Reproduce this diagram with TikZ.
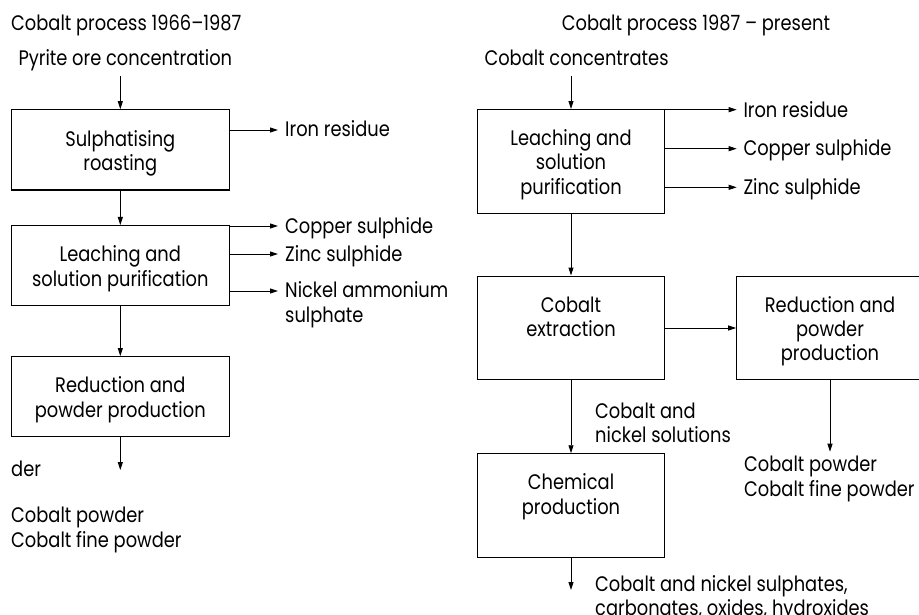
\documentclass[tikz,border=0pt]{standalone}
\usepackage{fontspec}
\setmainfont[FakeStretch=0.85]{Poppins}
\usetikzlibrary{arrows.meta,calc}
\newcommand{\mlines}[1]{\begin{tabular}[t]{@{}l@{}}#1\end{tabular}}
\newcommand{\boxtext}[1]{\begin{tabular}{@{}c@{}}\rule{0pt}{24pt}#1\end{tabular}}
\begin{document}
\begin{tikzpicture}[x=1pt,y=-1pt,
  every node/.style={font=\fontsize{21}{24.3}\selectfont, inner sep=0pt},
  box/.style={draw, line width=1.1pt, align=center, minimum width=217.5pt, minimum height=80.3pt},
  rbox/.style={draw, line width=1.1pt, align=center, minimum width=186.6pt, minimum height=103.8pt},
  lbl/.style={anchor=base west},
  arr/.style={-{Triangle[length=8pt,width=5pt]}, line width=0.9pt}]
\useasboundingbox (0,0) rectangle (919,615);

% ---------- left process ----------
\node[lbl] (t1) at (11,30.7) {Cobalt process 1966--1987};
\node[lbl] (pyr) at (18.3,65.7) {Pyrite ore concentration};
\node[box] (b1) at (120.3,149.9) {\boxtext{Sulphatising\\roasting}};
\node[box] (b2) at (120.3,265.7) {\boxtext{Leaching and\\solution purification}};
\node[box] (b3) at (120.3,396.7) {\boxtext{Reduction and\\powder production}};

\coordinate (p0) at (120.3,76);
\draw[arr] (p0) -- (b1.north);
\draw[arr] (b1) -- (b2);
\draw[arr] (b2) -- (b3);

\coordinate (ir1) at (278,130);
\node[lbl] (irl1) at ($(ir1)+(7,6.7)$) {Iron residue};
\draw[arr] (ir1 -| b1.east) -- (ir1);

\coordinate (cu1) at (278,226);
\node[lbl] (cul1) at ($(cu1)+(7,7.2)$) {Copper sulphide};
\draw[arr] (cu1 -| b2.east) -- (cu1);

\coordinate (zn1) at (278,254);
\node[lbl] (znl1) at ($(zn1)+(7,7)$) {Zinc sulphide};
\draw[arr] (zn1 -| b2.east) -- (zn1);

\coordinate (ni1) at (278,291);
\node[lbl] (nil1) at ($(ni1)+(7,6.8)$) {\mlines{Nickel ammonium\\sulphate}};
\draw[arr] (ni1 -| b2.east) -- (ni1);

\coordinate (lp) at (120.3,470);
\draw[arr] (b3.south) -- (b3.south |- lp);
\node[lbl] (der) at (11,476.7) {der};
\node[lbl] (pow1) at (11,522.7) {\mlines{Cobalt powder\\Cobalt fine powder}};

% ---------- right process ----------
\node[lbl] (t2) at (561.7,30.7) {Cobalt process 1987 -- present};
\node[lbl] (cc) at (484.3,65.7) {Cobalt concentrates};
\node[rbox] (bA) at (571,161.5) {\boxtext{Leaching and\\solution\\purification}};
\node[rbox] (bB) at (571,328) {\boxtext{Cobalt\\extraction\\\mbox{}}};
\node[rbox] (bC) at (830,328) {\boxtext{Reduction and\\powder\\production}};
\node[rbox] (bD) at (571,505.7) {\boxtext{Chemical\\production\\\mbox{}}};

\coordinate (p1) at (571,76);
\draw[arr] (p1) -- (bA.north);
\draw[arr] (bA) -- (bB);
\draw[arr] (bB) -- (bC);
\draw[arr] (bB) -- (bD);

\coordinate (ir2) at (736.7,109.7);
\node[lbl] (irl2) at ($(ir2)+(6.6,7.6)$) {Iron residue};
\draw[arr] (ir2 -| bA.east) -- (ir2);

\coordinate (cu2) at (736.7,148.7);
\node[lbl] (cul2) at ($(cu2)+(6.6,7.3)$) {Copper sulphide};
\draw[arr] (cu2 -| bA.east) -- (cu2);

\coordinate (zn2) at (736.7,187.3);
\node[lbl] (znl2) at ($(zn2)+(6.6,7.3)$) {Zinc sulphide};
\draw[arr] (zn2 -| bA.east) -- (zn2);

\node[lbl] (sol) at (595,418.3) {\mlines{Cobalt and\\nickel solutions}};

\coordinate (cp) at (829.3,451.7);
\draw[arr] (bC.south) -- (bC.south |- cp);
\node[lbl] (pow2) at (744,471.7) {\mlines{Cobalt powder\\Cobalt fine powder}};

\coordinate (dp) at (571,590);
\draw[arr] (bD.south) -- (bD.south |- dp);
\node[lbl] (chem) at (595,591) {\mlines{Cobalt and nickel sulphates,\\carbonates, oxides, hydroxides}};
\end{tikzpicture}
\end{document}
